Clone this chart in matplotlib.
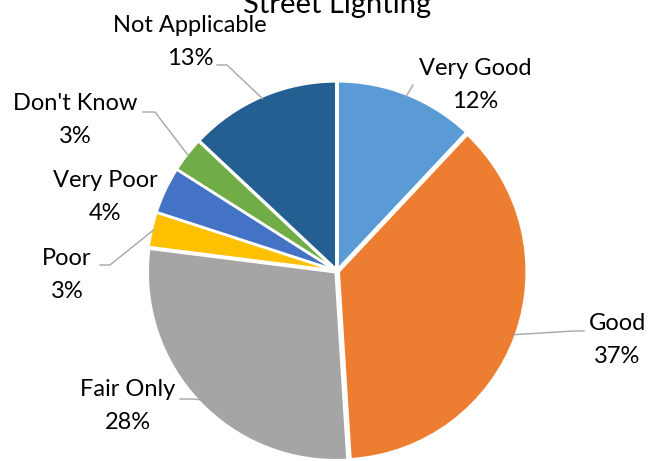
import numpy as np
import matplotlib
matplotlib.use("Agg")
import matplotlib.pyplot as plt
from matplotlib.lines import Line2D

# ---- data ----
categories = ["Very Good", "Good", "Fair Only", "Poor", "Very Poor", "Don't Know", "Not Applicable"]
percents = [12, 37, 28, 3, 4, 3, 13]
colors = ["#5B9BD5", "#ED7D31", "#A5A5A5", "#FFC000", "#4472C4", "#70AD47", "#255E91"]
title = "Street Lighting"

# ---- layout (pixel coords, y from top) ----
W, H = 651, 461
cx, cy, R = 337, 271, 188
label_pos = [(475, 85), (617, 340), (128, 406), (67, 275), (105, 197), (75, 120), (190, 42)]
leader_start = [
    [(413, 85)],
    [(584, 331), (574, 331)],
    [(180, 399), (192, 399)],
    [(100, 265), (110, 265)],
    None,
    [(143, 112), (155, 112)],
    [(217, 65), (227, 65)],
]

plt.rcParams['font.family'] = ['Lato', 'DejaVu Sans']
fig = plt.figure(figsize=(W / 100, H / 100), dpi=100)
ax = fig.add_axes([0, 0, 1, 1])

wedges, _ = ax.pie(percents, colors=colors, startangle=90, counterclock=False,
                   center=(cx, H - cy), radius=R, explode=[1.8] * len(percents),
                   wedgeprops=dict(edgecolor="white", linewidth=1.8))
ax.set_xlim(0, W)
ax.set_ylim(0, H)
ax.set_aspect('equal')
ax.axis('off')

total = sum(percents)
cum = 0
for i, (cat, p) in enumerate(zip(categories, percents)):
    mid = (cum + p / 2) / total
    cum += p
    ang = np.deg2rad(90 - 360 * mid)
    ex, ey = cx + R * np.cos(ang), H - cy + R * np.sin(ang)
    lx, ly = label_pos[i]
    ax.text(lx, H - ly, f"{cat}\n{p}%", ha="center", va="center", fontsize=17,
            color="#000000", linespacing=1.75)
    if leader_start[i] is not None:
        xs = [pt[0] for pt in leader_start[i]] + [ex]
        ys = [H - pt[1] for pt in leader_start[i]] + [ey]
        ax.add_line(Line2D(xs, ys, color="#A6A6A6", linewidth=1.0))

ax.text(337, H - 13, title, ha="center", va="baseline", fontsize=21, color="#000000")

fig.savefig("out.png", dpi=100)
